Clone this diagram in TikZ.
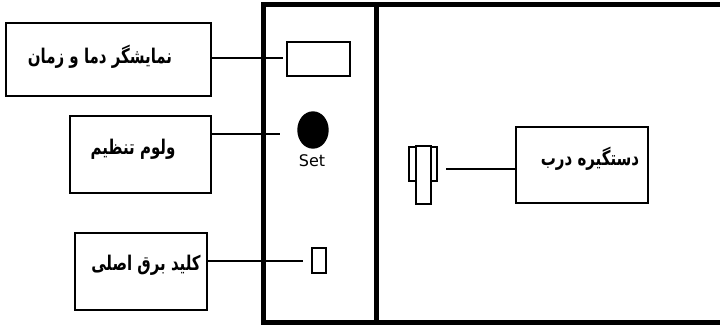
\documentclass[tikz,border=0pt]{standalone}
\usepackage{fontspec}
\usepackage{graphicx}
\usetikzlibrary{shapes.geometric}
\newfontfamily\arabicfont[Script=Arabic]{DejaVu Sans}
\setsansfont{DejaVu Sans}
\TeXXeTstate=1
\newcommand{\fatext}[1]{\scalebox{1}[1.35]{\beginR #1\endR}}
\tikzset{
  lblbox/.style={draw, line width=1.3pt, minimum width=#1, inner sep=0pt},
  lbltext/.style={font=\arabicfont\bfseries\fontsize{15}{17}\selectfont, inner sep=0pt},
  wire/.style={line width=1.4pt},
  part/.style={draw, line width=1.4pt, inner sep=0pt}
}
\begin{document}
\begin{tikzpicture}[x=1pt,y=-1pt]
		\useasboundingbox (0,0) rectangle (720,325);
		% cabinet frame
		\draw [line width=5pt] (720,4.5) -- (263.5,4.5) -- (263.5,322.5) -- (720,322.5);
		\draw [line width=5pt] (376.5,4.5) -- (376.5,322.5);
		
		% control panel parts
		\node [part, minimum width=63pt, minimum height=34pt] (disp) at (318.5,59) {};
		\node [part, ellipse, fill, minimum width=30pt, minimum height=36pt] (knob) at (313,130) {};
		\node [font=\sffamily\fontsize{16}{18}\selectfont, inner sep=0pt] (set) at (312,161) {Set};
		\node [part, minimum width=14pt, minimum height=25pt] (switch) at (319,260.5) {};
		
		% door handle
		\node [part, minimum width=28pt, minimum height=34pt] (hback) at (423,164) {};
		\node [part, fill=white, minimum width=15pt, minimum height=58pt] (hbar) at (423.5,175) {};
		
		% label boxes
		\node [lblbox=205pt, minimum height=73pt] (dispbox) at (108.5,59.5) {};
		\node [lbltext] (disptext) at (100,57) {\fatext{نمایشگر دما و زمان}};
		\node [lblbox=141pt, minimum height=77pt] (knobbox) at (140.5,154.5) {};
		\node [lbltext] (knobtext) at (133,149) {\fatext{ولوم تنظیم}};
		\node [lblbox=132pt, minimum height=77pt] (switchbox) at (141,271.5) {};
		\node [lbltext] (switchtext) at (146,265) {\fatext{کلید برق اصلی}};
		\node [lblbox=132pt, minimum height=76pt] (handlebox) at (582,165) {};
		\node [lbltext] (handletext) at (590,159) {\fatext{دستگیره درب}};
		
		% connectors
		\coordinate (dispend) at (283,58);
		\coordinate (knobend) at (280,134);
		\coordinate (switchend) at (303,261);
		\coordinate (handleend) at (446,169);
		\draw [wire] (dispbox.east |- dispend) -- (dispend);
		\draw [wire] (knobbox.east |- knobend) -- (knobend);
		\draw [wire] (switchbox.east |- switchend) -- (switchend);
		\draw [wire] (handleend) -- (handlebox.west |- handleend);
\end{tikzpicture}
\end{document}
